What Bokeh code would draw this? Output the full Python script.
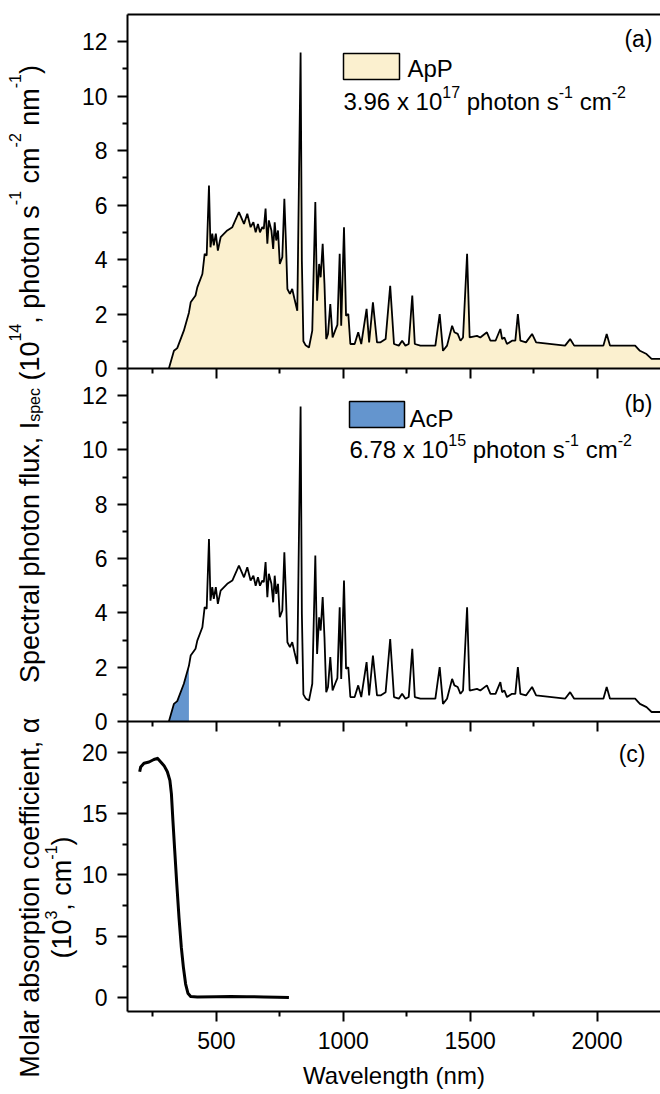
from math import pi
from bokeh.plotting import figure
from bokeh.models import (Range1d, LinearAxis, FixedTicker, Label, BoxAnnotation,
                          ColumnDataSource, Grid)
from bokeh.embed import file_html
from bokeh.resources import INLINE

# ---------------- data ----------------
WAVELENGTH = [313, 333, 346, 372, 392, 399, 418, 425, 445, 454, 462, 471, 477, 484, 490, 498,
              506, 517, 543, 563, 589, 609, 622, 635, 646, 655, 664, 672, 681, 687, 694, 701,
              707, 717, 724, 730, 736, 743, 750, 760, 768, 774, 780, 790, 799, 808, 819, 832,
              837, 843, 852, 865, 878, 890, 897, 905, 911, 919, 926, 933, 940, 949, 958, 968,
              977, 986, 992, 1003, 1011, 1020, 1028, 1045, 1059, 1071, 1092, 1102, 1117, 1133,
              1147, 1167, 1185, 1200, 1219, 1232, 1245, 1258, 1272, 1282, 1304, 1363, 1380, 1393,
              1409, 1429, 1438, 1451, 1462, 1472, 1488, 1498, 1527, 1540, 1566, 1580, 1600, 1619,
              1626, 1635, 1645, 1665, 1678, 1688, 1698, 1720, 1744, 1760, 1874, 1894, 1910, 2025,
              2038, 2051, 2150, 2169, 2195, 2215, 2250]
PHOTON_FLUX = [0.00, 0.65, 0.75, 1.39, 2.05, 2.43, 2.68, 2.98, 3.47, 4.21, 4.15, 6.72, 4.45, 4.95,
               4.52, 4.95, 4.33, 4.82, 5.07, 5.19, 5.74, 5.31, 5.68, 5.19, 5.37, 5.00, 5.31, 5.00,
               5.19, 5.13, 5.87, 4.58, 5.44, 5.07, 4.39, 5.37, 4.70, 5.07, 3.84, 4.09, 6.23, 4.70,
               2.92, 2.74, 2.92, 2.55, 2.12, 11.60, 3.96, 1.00, 0.85, 0.77, 1.39, 6.11, 2.49, 3.84,
               3.35, 4.58, 3.11, 1.08, 1.27, 2.37, 1.14, 1.39, 1.60, 4.21, 1.57, 5.19, 1.94, 2.00,
               0.90, 0.90, 1.33, 0.90, 2.19, 0.96, 2.43, 0.96, 0.96, 1.08, 3.04, 0.90, 0.84, 1.02,
               0.84, 0.90, 2.68, 0.90, 0.84, 0.84, 2.00, 0.65, 0.84, 1.57, 1.33, 1.27, 1.02, 1.14,
               4.21, 1.14, 1.20, 1.14, 1.33, 1.02, 1.02, 1.45, 1.08, 1.14, 0.90, 1.02, 1.02, 2.00,
               1.02, 0.96, 1.27, 0.96, 0.84, 1.08, 0.84, 0.84, 1.27, 0.84, 0.84, 0.65, 0.53, 0.35,
               0.35]
ACP_EDGE = 392  # nm, long-wavelength edge of AcP absorption

ALPHA_WL = [198, 202, 215, 235, 254, 268, 281, 294, 307, 317, 323, 329, 336, 344, 353, 362, 370,
            379, 388, 399, 425, 500, 556, 620, 687, 740, 786]
ALPHA = [18.4, 18.8, 19.1, 19.2, 19.4, 19.5, 19.2, 18.9, 18.4, 17.7, 16.6, 14.4, 12.0, 9.3, 6.5,
         4.1, 2.5, 1.1, 0.35, 0.08, 0.05, 0.07, 0.08, 0.06, 0.05, 0.03, 0.0]

X_TICKS = [500, 1000, 1500, 2000]
X_MINOR = [250, 750, 1250, 1750]
FLUX_TICKS = [0, 2, 4, 6, 8, 10, 12]
FLUX_MINOR = [1, 3, 5, 7, 9, 11]
ALPHA_TICKS = [0, 5, 10, 15, 20]
ALPHA_MINOR = [2.5, 7.5, 12.5, 17.5]

X_RANGE = (150, 2250)
FLUX_RANGE = (0, 13)
ALPHA_RANGE = (-1.14, 22.5)

assert len(WAVELENGTH) == len(PHOTON_FLUX)
assert len(ALPHA_WL) == len(ALPHA)

# ---------------- layout (pixels) ----------------
W, H = 660, 1094
PL, PR = 127, 660               # plotting area left/right
PANEL_A = (14, 368)
PANEL_B = (368, 721)
PANEL_C = (721, 1011)
FONT = "Liberation Sans"
CREAM = "#FBF0CF"
BLUE = "#6495CE"
TEXT_SHIFT = 7                  # correction of the renderer's baseline placement

ARIAL = {' ': 278, '(': 333, ')': 333, ',': 278, '-': 333, '.': 278, 'A': 667, 'I': 278,
         'M': 833, 'P': 667, 'S': 667, 'a': 556, 'b': 556, 'c': 500, 'e': 556, 'f': 278,
         'h': 556, 'i': 222, 'l': 222, 'm': 833, 'n': 556, 'o': 556, 'p': 556, 'r': 333,
         's': 500, 't': 278, 'u': 556, 'x': 500, 'α': 578}


def tw(s, size):
    return sum(ARIAL.get(c, 556) for c in s) * size / 1000.0


def x_canvas_range():
    s = (PR - PL) / (X_RANGE[1] - X_RANGE[0])
    return Range1d(X_RANGE[0] - PL / s, X_RANGE[1] + (W - PR) / s)


def panel_range(span, rng):
    top, bot = span
    lo, hi = rng
    s = (bot - top) / (hi - lo)
    return Range1d(lo - (H - bot) / s, hi + top / s)


# the frame covers the whole canvas; panels are placed through their own y-ranges
p = figure(width=W, height=H, x_range=x_canvas_range(),
           y_range=panel_range(PANEL_C, ALPHA_RANGE),
           output_backend="svg", toolbar_location=None,
           x_axis_location=None, y_axis_location=None,
           min_border=0, outline_line_color=None,
           background_fill_color="white", border_fill_color="white")
p.center = [r for r in p.center if not isinstance(r, Grid)]
p.extra_y_ranges = {"a": panel_range(PANEL_A, FLUX_RANGE),
                    "b": panel_range(PANEL_B, FLUX_RANGE)}

# ---------------- glyphs ----------------
src = ColumnDataSource(dict(wl=WAVELENGTH, flux=PHOTON_FLUX))
acp_wl = [w for w in WAVELENGTH if w <= ACP_EDGE]
acp_src = ColumnDataSource(dict(wl=acp_wl, flux=PHOTON_FLUX[:len(acp_wl)]))

p.varea(x="wl", y1=0, y2="flux", source=src, fill_color=CREAM, y_range_name="a")
p.line(x="wl", y="flux", source=src, line_color="black", line_width=1.8, y_range_name="a")

p.varea(x="wl", y1=0, y2="flux", source=acp_src, fill_color=BLUE, y_range_name="b")
p.line(x="wl", y="flux", source=src, line_color="black", line_width=1.8, y_range_name="b")

p.line(ALPHA_WL, ALPHA, line_color="black", line_width=3, line_join="round")


# ---------------- axes ----------------
def style(ax, labels=True):
    ax.axis_line_width = 2
    ax.axis_line_color = "black"
    ax.major_tick_line_width = 2
    ax.minor_tick_line_width = 2
    ax.major_tick_in = 0
    ax.major_tick_out = 10
    ax.minor_tick_in = 0
    ax.minor_tick_out = 5
    ax.major_label_text_font = FONT
    ax.major_label_text_font_size = "23px"
    ax.major_label_text_color = "black" if labels else None
    ax.major_label_standoff = 10
    return ax


for name, ticks, minor, rng in (("a", FLUX_TICKS, FLUX_MINOR, FLUX_RANGE),
                                ("b", FLUX_TICKS, FLUX_MINOR, FLUX_RANGE),
                                ("default", ALPHA_TICKS, ALPHA_MINOR, ALPHA_RANGE)):
    ax = LinearAxis(y_range_name=name, fixed_location=X_RANGE[0], bounds=rng,
                    ticker=FixedTicker(ticks=ticks, minor_ticks=minor))
    p.add_layout(style(ax), "left")

for name in ("a", "b"):
    ax = LinearAxis(y_range_name=name, fixed_location=FLUX_RANGE[0], bounds=X_RANGE,
                    ticker=FixedTicker(ticks=X_TICKS, minor_ticks=X_MINOR))
    p.add_layout(style(ax, labels=False), "below")

top = LinearAxis(y_range_name="a", fixed_location=FLUX_RANGE[1], bounds=X_RANGE,
                 ticker=FixedTicker(ticks=[], minor_ticks=[]))
p.add_layout(style(top, labels=False), "above")

xb = LinearAxis(fixed_location=ALPHA_RANGE[0], bounds=X_RANGE,
                ticker=FixedTicker(ticks=X_TICKS, minor_ticks=X_MINOR))
style(xb)
xb.axis_label = "Wavelength (nm)"
xb.axis_label_text_font = FONT
xb.axis_label_text_font_size = "24px"
xb.axis_label_text_font_style = "normal"
xb.axis_label_text_color = "black"
xb.axis_label_standoff = 10
p.add_layout(xb, "below")


# ---------------- texts ----------------
def label(text, px, py, size, align="left", angle=0.0):
    if angle == 0:
        py -= TEXT_SHIFT
    else:
        px -= TEXT_SHIFT
    p.add_layout(Label(x=px, y=H - py, x_units="screen", y_units="screen", text=text,
                       text_font=FONT, text_font_size=f"{size}px", text_color="black",
                       text_align=align, text_baseline="alphabetic", angle=angle))


def htext(pieces, x0, yb, size, small, rise):
    x = x0
    for t, kind in pieces:
        fs = size if kind == "n" else small
        lead = len(t) - len(t.lstrip(" "))
        x += tw(" " * lead, fs)
        s = t.strip(" ")
        y = yb - rise if kind == "sup" else yb
        label(s, x, y, fs)
        x += tw(t[lead:], fs)


def vtext(pieces, xb, yc, size, small, rise, drop):
    total = sum(tw(t, size if k == "n" else small) for t, k in pieces)
    y = yc + total / 2.0
    for t, kind in pieces:
        fs = size if kind == "n" else small
        lead = len(t) - len(t.lstrip(" "))
        y -= tw(" " * lead, fs)
        s = t.strip(" ")
        x = xb - rise if kind == "sup" else (xb + drop if kind == "sub" else xb)
        label(s, x, y, fs, angle=pi / 2)
        y -= tw(t[lead:], fs)


def swatch(left, top_, right, bottom, color):
    p.add_layout(BoxAnnotation(left=left, right=right, top=H - top_, bottom=H - bottom,
                               left_units="screen", right_units="screen", top_units="screen",
                               bottom_units="screen", fill_color=color, fill_alpha=1,
                               line_color="black", line_width=1.5, line_alpha=1))


# y-axis titles
vtext([("Spectral photon flux, I", "n"), ("spec", "sub"), (" (10", "n"), ("14", "sup"),
       (", photon s", "n"), ("-1", "sup"), (" cm", "n"), ("-2", "sup"), (" nm", "n"),
       ("-1", "sup"), (")", "n")], 36, 373.5, 27, 16, 15, 5)
vtext([("Molar absorption coefficient, α", "n")], 36, 897, 27, 16, 15, 5)
vtext([("(10", "n"), ("3", "sup"), (", cm", "n"), ("-1", "sup"), (")", "n")],
      68, 897, 27, 16, 11, 5)

# panel letters
label("(a)", 652, 45, 23, align="right")
label("(b)", 652, 410, 23, align="right")
label("(c)", 645, 760, 23, align="right")

# legends
swatch(343, 53, 399, 79, CREAM)
label("ApP", 407, 75, 24)
htext([("3.96 x 10", "n"), ("17", "sup"), (" photon s", "n"), ("-1", "sup"), (" cm", "n"),
       ("-2", "sup")], 343, 108, 24, 16, 10)

swatch(349, 401, 404, 427, BLUE)
label("AcP", 409, 425, 24)
htext([("6.78 x 10", "n"), ("15", "sup"), (" photon s", "n"), ("-1", "sup"), (" cm", "n"),
       ("-2", "sup")], 349, 456, 24, 16, 10)

open("out.html", "w").write(file_html(p, INLINE))
